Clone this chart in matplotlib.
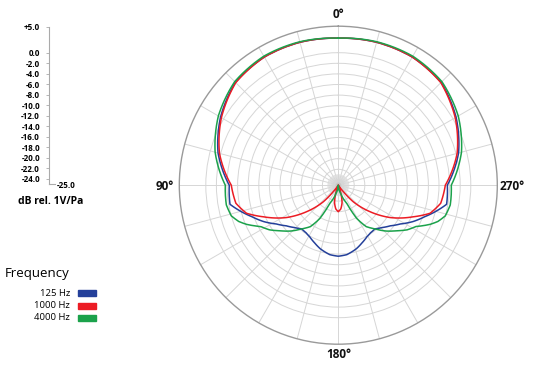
import numpy as np
import matplotlib
matplotlib.use("Agg")
import matplotlib.pyplot as plt

plt.rcParams['font.family'] = ['Open Sans', 'DejaVu Sans']

W, H = 533, 368

# half patterns (0 = front, 180 = rear), dB rel. 1V/Pa, mirrored for the other side
ang_125 = [0, 15, 30, 45, 60, 75, 90, 100, 110, 116, 122, 128, 134, 140, 146, 151, 158, 164, 173, 180]
db_125 = [2.74, 2.92, 2.92, 2.45, 0.66, -1.51, -4.43, -4.25, -7.64, -9.34, -11.2, -12.55, -13.5,
          -14.25, -14.15, -13.87, -13.2, -12.55, -11.8, -11.6]

ang_1000 = [0, 15, 30, 45, 60, 75, 90, 100, 107, 113, 122, 130, 138, 142, 146, 155, 162, 168, 174, 180]
db_1000 = [2.74, 2.92, 2.92, 2.36, 0.47, -1.79, -4.81, -5.38, -6.89, -9.72, -13.49, -17.26, -20.85,
           -23.49, -25.0, -25.0, -23.5, -21.6, -20.5, -20.0]

ang_4000 = [0, 15, 30, 45, 60, 75, 90, 100, 106, 110, 113, 118, 123, 128, 134, 140, 146, 151, 155, 165, 180]
db_4000 = [2.74, 3.02, 3.11, 2.64, 1.13, -0.94, -3.68, -3.55, -4.0, -5.0, -6.13, -8.4, -9.53, -11.04,
           -12.55, -14.25, -15.57, -17.83, -21.23, -23.49, -25.0]

freq_labels = ['125 Hz', '1000 Hz', '4000 Hz']
colors = ['#24409a', '#ec1c24', '#1ba24b']

scale_ticks = [5, 0, -2, -4, -6, -8, -10, -12, -14, -16, -18, -20, -22, -24]
scale_labels = ['+5.0', '0.0', '-2.0', '-4.0', '-6.0', '-8.0', '-10.0', '-12.0', '-14.0',
                '-16.0', '-18.0', '-20.0', '-22.0', '-24.0']
rings = list(range(-24, 1, 2))


def full_circle(ang, db):
    a = np.array(ang, dtype=float)
    d = np.array(db, dtype=float)
    a_full = np.concatenate([a, 360 - a[::-1][1:]])
    d_full = np.concatenate([d, d[::-1][1:]])
    return np.radians(a_full), d_full


fig = plt.figure(figsize=(W / 100, H / 100), dpi=100)

# polar chart
cx, cy, R = 338.3, 185.2, 159
ax = fig.add_axes([(cx - R) / W, (H - cy - R) / H, 2 * R / W, 2 * R / H], projection='polar')
ax.set_theta_zero_location('N')
ax.set_theta_direction(1)
ax.set_ylim(-25, 5)
ax.set_yticks(rings)
ax.set_yticklabels([])
ax.set_xticks(np.radians(np.arange(0, 360, 15)))
ax.set_xticklabels([])
ax.grid(True, color='#d6d6d6', lw=0.7)
ax.spines['polar'].set_color('#9a9a9a')
ax.spines['polar'].set_linewidth(1.0)

# short extra spokes near the centre
for a in range(0, 360, 5):
    if a % 15:
        ax.plot([np.radians(a)] * 2, [-25, -23], color='#d8d8d8', lw=0.5, zorder=1)
ax.scatter([0], [-25], s=18, color='#c8c8c8', zorder=2, lw=0)

for ang, db, c in [(ang_125, db_125, colors[0]), (ang_1000, db_1000, colors[1]),
                   (ang_4000, db_4000, colors[2])]:
    th, r = full_circle(ang, db)
    ln, = ax.plot(th, r, color=c, lw=1.1, zorder=3)
    # draw segments as arcs in polar space instead of chords
    ln.get_path()._interpolation_steps = 30

lab_kw = dict(fontsize=8.5, fontweight='bold', color='#111111')
fig.text(cx / W, 1 - 15 / H, '0°', ha='center', va='center', **lab_kw)
fig.text(174 / W, 1 - 186 / H, '90°', ha='right', va='center', **lab_kw)
fig.text(500 / W, 1 - 186 / H, '270°', ha='left', va='center', **lab_kw)
fig.text(cx / W, 1 - 355 / H, '180°', ha='center', va='center', **lab_kw)

# dB scale on the left
top_px, bot_px = 26.7, 184
sax = fig.add_axes([49 / W, (H - bot_px) / H, 16 / W, (bot_px - top_px) / H])
sax.set_ylim(-25, 5)
sax.set_xlim(0, 1)
for s in ['top', 'right', 'bottom']:
    sax.spines[s].set_visible(False)
sax.spines['left'].set_color('#aaaaaa')
sax.spines['left'].set_linewidth(0.8)
sax.set_xticks([])
sax.set_yticks(scale_ticks)
sax.set_yticklabels(scale_labels)
sax.tick_params(axis='y', direction='out', length=2.5, width=0.6, color='#aaaaaa',
                labelsize=5.8, pad=4)
for t in sax.get_yticklabels():
    t.set_fontweight('bold')
sax.patch.set_alpha(0)
sax.plot([0, 0.35], [-25, -25], color='#aaaaaa', lw=0.8, clip_on=False)
sax.text(0.5, -25.3, '-25.0', fontsize=5.8, fontweight='bold', ha='left', va='center')

fig.text(18 / W, 1 - 201 / H, 'dB rel. 1V/Pa', fontsize=7.5, fontweight='bold', ha='left', va='center')

# legend
fig.text(5 / W, 1 - 273 / H, 'Frequency', fontsize=9.5, ha='left', va='center')
for i, (lab, c) in enumerate(zip(freq_labels, colors)):
    y = 293 + i * 12.5
    fig.text(70 / W, 1 - y / H, lab, fontsize=6.8, ha='right', va='center')
    fig.patches.append(plt.Rectangle((78 / W, 1 - (y + 3) / H), 18 / W, 6 / H,
                                     transform=fig.transFigure, color=c, figure=fig))

fig.savefig('out.png', dpi=100)
